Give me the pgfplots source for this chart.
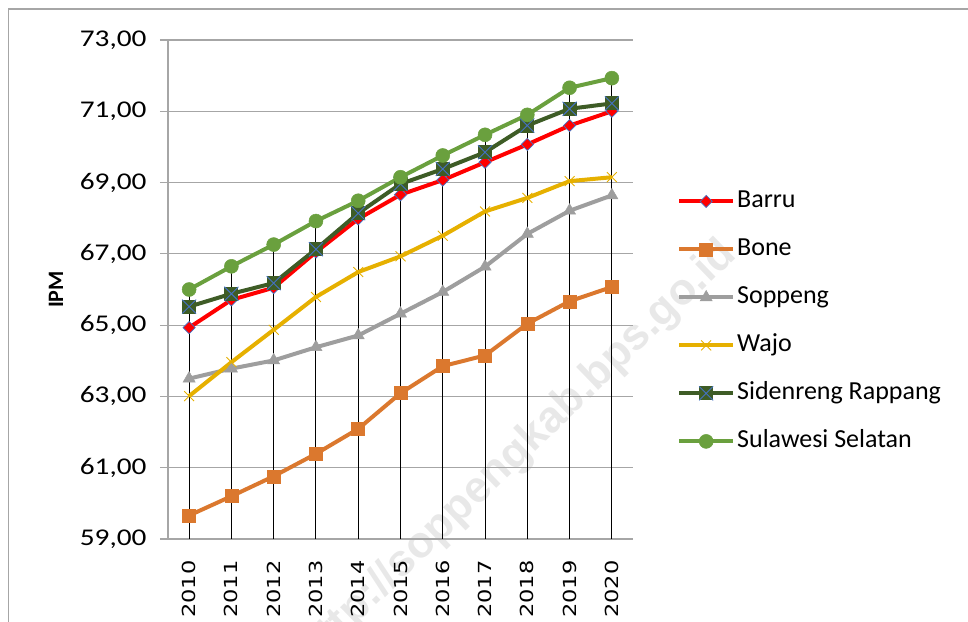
\documentclass[border=0pt]{standalone}
\usepackage{fontspec}
\setmainfont{Carlito}
\newfontfamily\ytickfont[FakeStretch=1.22]{Carlito}
\newfontfamily\xtickfont[FakeStretch=1.25]{DejaVu Sans}
\newfontfamily\wmfont{Liberation Sans}
\usepackage{pgfplots}
\usepackage{pgfplotstable}
\pgfplotsset{compat=1.18}

\definecolor{barru}{RGB}{255,0,0}
\definecolor{bone}{RGB}{219,120,46}
\definecolor{soppeng}{RGB}{158,158,158}
\definecolor{wajo}{RGB}{230,176,0}
\definecolor{sidrap}{RGB}{62,92,38}
\definecolor{sulsel}{RGB}{106,160,62}
\definecolor{mkblue}{RGB}{68,114,196}
\definecolor{gridgray}{RGB}{166,166,166}

\pgfdeclareplotmark{sqx}{%
  \pgfscope
  \pgfpathrectangle{\pgfpoint{-\pgfplotmarksize}{-\pgfplotmarksize}}{\pgfpoint{2\pgfplotmarksize}{2\pgfplotmarksize}}%
  \pgfsetfillcolor{sidrap}\pgfusepath{fill}%
  \pgfsetstrokecolor{mkblue}\pgfsetlinewidth{0.9bp}%
  \pgfpathmoveto{\pgfpoint{-\pgfplotmarksize}{-\pgfplotmarksize}}\pgfpathlineto{\pgfpoint{\pgfplotmarksize}{\pgfplotmarksize}}%
  \pgfpathmoveto{\pgfpoint{-\pgfplotmarksize}{\pgfplotmarksize}}\pgfpathlineto{\pgfpoint{\pgfplotmarksize}{-\pgfplotmarksize}}%
  \pgfusepath{stroke}%
  \endpgfscope
}

\pgfplotstableread{
x Barru Bone Soppeng Wajo Sidrap Sulsel
0 64.93 59.66 63.50 63.01 65.52 66.00
1 65.71 60.20 63.78 63.96 65.88 66.65
2 66.05 60.76 64.01 64.87 66.18 67.26
3 67.05 61.39 64.38 65.79 67.13 67.92
4 67.98 62.09 64.71 66.49 68.14 68.49
5 68.66 63.09 65.32 66.93 68.96 69.15
6 69.07 63.85 65.93 67.51 69.38 69.76
7 69.57 64.15 66.64 68.19 69.85 70.34
8 70.07 65.04 67.56 68.57 70.60 70.90
9 70.60 65.67 68.21 69.04 71.07 71.66
10 71.00 66.07 68.64 69.15 71.22 71.93
}\datatable

\begin{document}
\begin{tikzpicture}
\path[use as bounding box] (-168bp,-83bp) rectangle (800bp,539bp);
\node[rotate=44, anchor=base east, text=black!9, font=\wmfont\bfseries\fontsize{44bp}{52bp}\selectfont] at (572bp,285bp) {http://soppengkab.bps.go.id};
\draw[gridgray, line width=1.5bp] (-159.5bp,-90bp) -- (-159.5bp,530bp) -- (810bp,530bp);
\begin{axis}[
  scale only axis, width=465bp, height=499bp,
  xmin=-0.5, xmax=10.5, ymin=59, ymax=73,
  xtick={0,1,2,3,4,5,6,7,8,9,10},
  xticklabels={2010,2011,2012,2013,2014,2015,2016,2017,2018,2019,2020},
  ytick={59,61,63,65,67,69,71,73},
  axis x line*=bottom, axis y line*=left,
  axis line style={gridgray, line width=1.2bp, -},
  ymajorgrids, grid style={gridgray, line width=1.2bp},
  tick align=outside, major tick length=8bp,
  ytick style={gridgray, line width=1.2bp},
  xtick style={draw=none},
  yticklabel shift=10bp,
  xticklabel shift=10bp,
  yticklabel style={font=\ytickfont\fontsize{24bp}{28bp}\selectfont, anchor=east},
  xticklabel style={font=\xtickfont\fontsize{18bp}{22bp}\selectfont, rotate=90, anchor=east},
  /pgf/number format/.cd, fixed, fixed zerofill, precision=2, use comma, assume math mode=true,
  /pgfplots/.cd,
  ylabel={IPM},
  ylabel style={font=\bfseries\fontsize{22bp}{26bp}\selectfont, at={(axis description cs:-0.241,0.5)}, anchor=center},
  legend style={at={(axis description cs:1.095,0.436)}, anchor=west, draw=none, fill=none,
    inner sep=0pt, outer sep=0pt, row sep=20bp,
    font=\fontsize{26bp}{30bp}\selectfont,
    nodes={text height=18bp, text depth=6bp}},
  legend cell align=left,
  legend image code/.code={\draw[mark repeat=2,mark phase=2,#1] plot coordinates {(-7bp,0bp)(20bp,0bp)(47bp,0bp)};},
]
\addplot[ycomb, black, line width=1bp, mark=none, forget plot] table[x=x, y=Sulsel] {\datatable};
\addplot[barru, line width=4bp, mark=square*, mark size=4.3bp, mark options={rotate=45, fill=barru, draw=mkblue, line width=0.7bp}] table[x=x, y=Barru] {\datatable};
\addlegendentry{Barru}
\addplot[bone, line width=4bp, mark=square*, mark size=6.5bp, mark options={fill=bone, draw=bone, line width=0.5bp}] table[x=x, y=Bone] {\datatable};
\addlegendentry{Bone}
\addplot[soppeng, line width=4bp, mark=triangle*, mark size=7bp, mark options={fill=soppeng, draw=soppeng, line width=0.5bp}] table[x=x, y=Soppeng] {\datatable};
\addlegendentry{Soppeng}
\addplot[wajo, line width=4bp, mark=x, mark size=7bp, mark options={draw=wajo, line width=0.9bp}] table[x=x, y=Wajo] {\datatable};
\addlegendentry{Wajo}
\addplot[sidrap, line width=4bp, mark=sqx, mark size=7bp] table[x=x, y=Sidrap] {\datatable};
\addlegendentry{Sidenreng Rappang}
\addplot[sulsel, line width=4bp, mark=*, mark size=7bp, mark options={fill=sulsel, draw=sulsel, line width=0.5bp}] table[x=x, y=Sulsel] {\datatable};
\addlegendentry{Sulawesi Selatan}
\end{axis}
\end{tikzpicture}
\end{document}
